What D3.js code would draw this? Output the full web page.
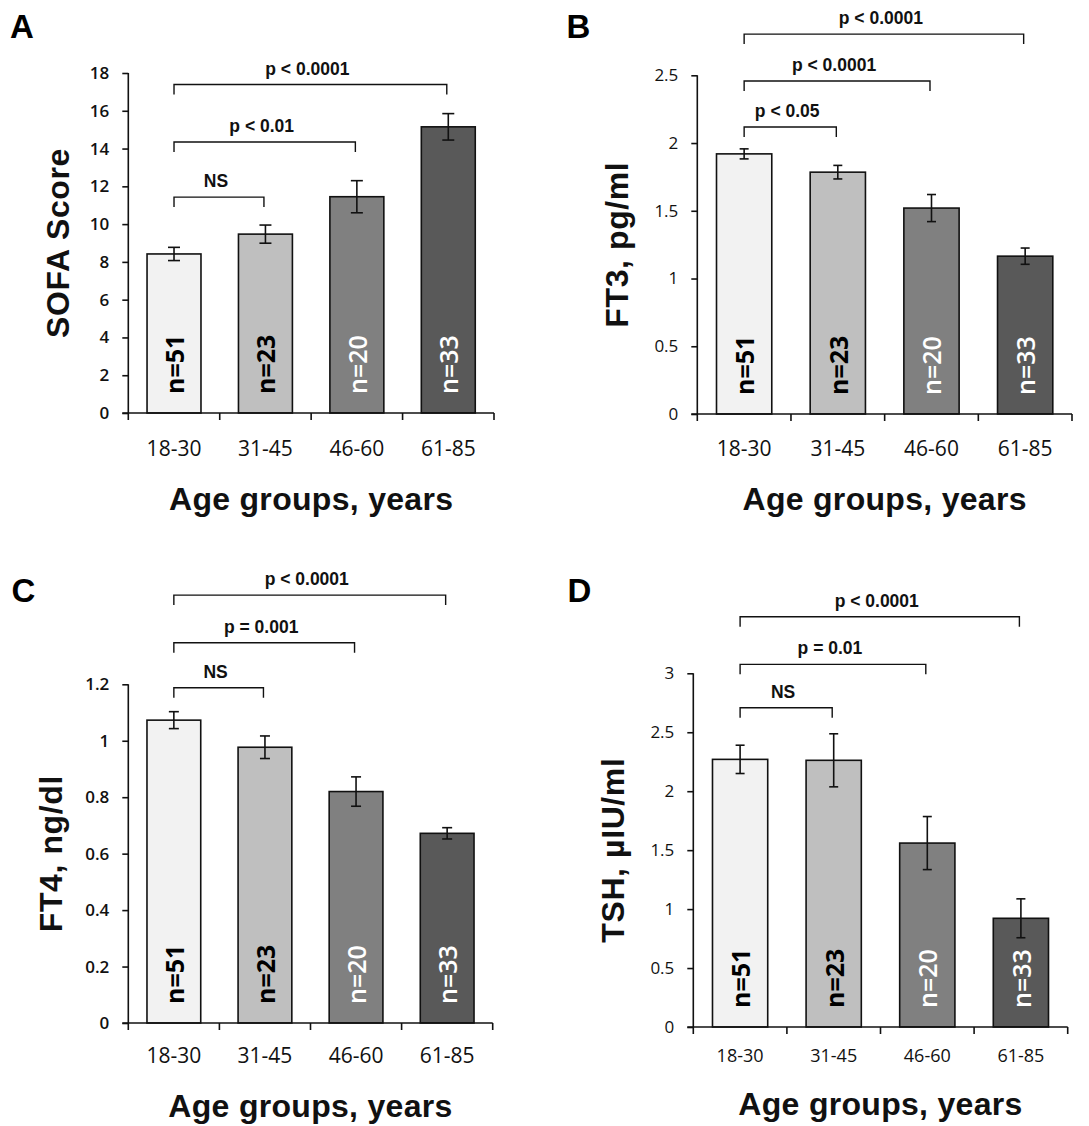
<!DOCTYPE html>
<html>
<head>
<meta charset="utf-8">
<script src="https://cdn.jsdelivr.net/npm/d3@7"></script>
<style>
  html, body { margin: 0; padding: 0; background: #fff; }
  svg { display: block; }
</style>
</head>
<body>
<svg id="chart" width="1089" height="1126"></svg>
<script>
// ---------- DATA ----------
const categories = ["18-30", "31-45", "46-60", "61-85"];
const sampleSizes = [51, 23, 20, 33];

const sofaMeans  = [8.42, 9.47, 11.45, 15.15];
const sofaErrors = [0.35, 0.48, 0.85, 0.70];
const sofaTicks  = [0, 2, 4, 6, 8, 10, 12, 14, 16, 18];
const sofaComparisons = [
  { to: 1, label: "NS", level: 11.43 },
  { to: 2, label: "p < 0.01", level: 14.35 },
  { to: 3, label: "p < 0.0001", level: 17.39 }
];

const ft3Means  = [1.92, 1.785, 1.52, 1.165];
const ft3Errors = [0.037, 0.05, 0.10, 0.06];
const ft3Ticks  = [0, 0.5, 1, 1.5, 2, 2.5];
const ft3Comparisons = [
  { to: 1, label: "p < 0.05", level: 2.118 },
  { to: 2, label: "p < 0.0001", level: 2.458 },
  { to: 3, label: "p < 0.0001", level: 2.804 }
];

const ft4Means  = [1.073, 0.977, 0.82, 0.672];
const ft4Errors = [0.03, 0.04, 0.052, 0.02];
const ft4Ticks  = [0, 0.2, 0.4, 0.6, 0.8, 1, 1.2];
const ft4Comparisons = [
  { to: 1, label: "NS", level: 1.188 },
  { to: 2, label: "p = 0.001", level: 1.347 },
  { to: 3, label: "p < 0.0001", level: 1.516 }
];

const tshMeans  = [2.27, 2.262, 1.56, 0.922];
const tshErrors = [0.12, 0.225, 0.225, 0.165];
const tshTicks  = [0, 0.5, 1, 1.5, 2, 2.5, 3];
const tshComparisons = [
  { to: 1, label: "NS", level: 2.708 },
  { to: 2, label: "p = 0.01", level: 3.076 },
  { to: 3, label: "p < 0.0001", level: 3.48 }
];

// ---------- STYLE ----------
const barFills   = ["#f2f2f2", "#bfbfbf", "#808080", "#595959"];
const nColors    = ["#000000", "#000000", "#ffffff", "#ffffff"];
const nWeights   = [700, 700, 600, 600];
const boldSans   = "'Liberation Sans', Arial, sans-serif";
const tickFont   = "'Open Sans', 'Noto Sans', sans-serif";

// ---------- LAYOUT ----------
const panels = [
  { letter: "A", means: sofaMeans, errors: sofaErrors, ticks: sofaTicks, comps: sofaComparisons,
    yTitle: "SOFA Score", x0: 128.3, x1: 494, yTop: 73, yBottom: 413,
    letterX: 10, letterY: 37.7, yTitleX: 57.5, xLabelOffset: 42.7, xLabelSize: 21,
    xTitleOffset: 97, yTickWeight: 600, capW: 12 },
  { letter: "B", means: ft3Means, errors: ft3Errors, ticks: ft3Ticks, comps: ft3Comparisons,
    yTitle: "FT3, pg/ml", x0: 697.3, x1: 1072, yTop: 75.3, yBottom: 414,
    letterX: 566.5, letterY: 37.7, yTitleX: 616.7, xLabelOffset: 41.7, xLabelSize: 21,
    xTitleOffset: 96, yTickWeight: 400, capW: 9 },
  { letter: "C", means: ft4Means, errors: ft4Errors, ticks: ft4Ticks, comps: ft4Comparisons,
    yTitle: "FT4, ng/dl", x0: 128.3, x1: 492.7, yTop: 684.3, yBottom: 1023,
    letterX: 11.5, letterY: 601.7, yTitleX: 50.5, xLabelOffset: 40.3, xLabelSize: 21,
    xTitleOffset: 94, yTickWeight: 600, capW: 10 },
  { letter: "D", means: tshMeans, errors: tshErrors, ticks: tshTicks, comps: tshComparisons,
    yTitle: "TSH, µIU/ml", x0: 693.3, x1: 1067.7, yTop: 673.3, yBottom: 1027,
    letterX: 567.5, letterY: 602.3, yTitleX: 612.5, xLabelOffset: 34.7, xLabelSize: 18,
    xTitleOffset: 88, yTickWeight: 400, capW: 9 }
];

const svg = d3.select("#chart");

panels.forEach(p => {
  const g = svg.append("g");
  const x = d3.scaleBand().domain(categories).range([p.x0, p.x1])
    .paddingInner(0.41).paddingOuter(0.205);
  const y = d3.scaleLinear().domain([0, p.ticks[p.ticks.length - 1]]).range([p.yBottom, p.yTop]);

  const data = categories.map((c, i) => ({ cat: c, mean: p.means[i], err: p.errors[i], n: sampleSizes[i], i }));

  // bars
  g.selectAll("rect.bar").data(data).join("rect")
    .attr("class", "bar")
    .attr("x", d => x(d.cat))
    .attr("width", x.bandwidth())
    .attr("y", d => y(d.mean))
    .attr("height", d => y(0) - y(d.mean))
    .attr("fill", d => barFills[d.i])
    .attr("stroke", "#111")
    .attr("stroke-width", 1.6);

  // error bars
  const eb = g.selectAll("g.err").data(data).join("g").attr("class", "err")
    .attr("stroke", "#111").attr("stroke-width", 1.6);
  eb.append("line")
    .attr("x1", d => x(d.cat) + x.bandwidth() / 2).attr("x2", d => x(d.cat) + x.bandwidth() / 2)
    .attr("y1", d => y(d.mean + d.err)).attr("y2", d => y(d.mean - d.err));
  eb.append("line")
    .attr("x1", d => x(d.cat) + x.bandwidth() / 2 - p.capW / 2).attr("x2", d => x(d.cat) + x.bandwidth() / 2 + p.capW / 2)
    .attr("y1", d => y(d.mean + d.err)).attr("y2", d => y(d.mean + d.err));
  eb.append("line")
    .attr("x1", d => x(d.cat) + x.bandwidth() / 2 - p.capW / 2).attr("x2", d => x(d.cat) + x.bandwidth() / 2 + p.capW / 2)
    .attr("y1", d => y(d.mean - d.err)).attr("y2", d => y(d.mean - d.err));

  // n labels
  g.selectAll("text.n").data(data).join("text")
    .attr("class", "n")
    .attr("transform", d => `translate(${x(d.cat) + x.bandwidth() / 2},${y(0) - 19}) rotate(-90)`)
    .attr("text-anchor", "start")
    .attr("dominant-baseline", "central")
    .attr("font-family", tickFont)
    .attr("font-weight", d => nWeights[d.i])
    .attr("font-size", 25)
    .attr("fill", d => nColors[d.i])
    .text(d => "n=" + d.n);

  // y axis
  const yAxis = g.append("g")
    .attr("transform", `translate(${p.x0},0)`)
    .call(d3.axisLeft(y).tickValues(p.ticks).tickSize(6).tickPadding(13).tickFormat(d => String(d)));
  yAxis.select(".domain").attr("stroke", "#111").attr("stroke-width", 1.6)
    .attr("d", `M0,${p.yTop}V${p.yBottom}`);
  yAxis.selectAll(".tick line").attr("stroke", "#111").attr("stroke-width", 1.6);
  yAxis.selectAll(".tick text")
    .attr("font-family", tickFont).attr("font-size", 17).attr("font-weight", p.yTickWeight)
    .attr("fill", "#111");

  // x axis line with boundary ticks
  const step = x.step();
  const xAxisG = g.append("g").attr("stroke", "#111").attr("stroke-width", 1.6);
  xAxisG.append("line").attr("x1", p.x0 - 6).attr("x2", p.x1).attr("y1", y(0)).attr("y2", y(0));
  xAxisG.selectAll("line.bt").data(d3.range(categories.length + 1)).join("line")
    .attr("class", "bt")
    .attr("x1", k => p.x0 + k * step).attr("x2", k => p.x0 + k * step)
    .attr("y1", y(0)).attr("y2", y(0) + 7);

  // x tick labels via axis
  const xAxis = g.append("g")
    .attr("transform", `translate(0,${y(0)})`)
    .call(d3.axisBottom(x).tickSize(0).tickPadding(0));
  xAxis.select(".domain").remove();
  xAxis.selectAll(".tick text")
    .attr("dy", null).attr("y", p.xLabelOffset)
    .attr("font-family", tickFont).attr("font-size", p.xLabelSize).attr("fill", "#111");

  // comparison brackets
  const cx = i => x(categories[i]) + x.bandwidth() / 2;
  p.comps.forEach(c => {
    const xa = cx(0), xb = cx(c.to) - 1.5, yy = y(c.level);
    g.append("path")
      .attr("d", `M${xa},${yy + 10}V${yy}H${xb}V${yy + 10}`)
      .attr("fill", "none").attr("stroke", "#111").attr("stroke-width", 1.4);
    g.append("text")
      .attr("x", (xa + xb) / 2 - 3).attr("y", yy - 10)
      .attr("text-anchor", "middle")
      .attr("font-family", boldSans).attr("font-weight", 700).attr("font-size", 17.5)
      .attr("fill", "#111")
      .text(c.label);
  });

  // axis titles
  g.append("text")
    .attr("transform", `translate(${p.yTitleX},${(p.yTop + p.yBottom) / 2}) rotate(-90)`)
    .attr("text-anchor", "middle").attr("dominant-baseline", "central")
    .attr("font-family", boldSans).attr("font-weight", 700).attr("font-size", 32)
    .attr("letter-spacing", 0.6)
    .attr("fill", "#111")
    .text(p.yTitle);
  g.append("text")
    .attr("x", (p.x0 + p.x1) / 2).attr("y", y(0) + p.xTitleOffset)
    .attr("text-anchor", "middle")
    .attr("font-family", boldSans).attr("font-weight", 700).attr("font-size", 32)
    .attr("letter-spacing", 0.3)
    .attr("fill", "#111")
    .text("Age groups, years");

  // panel letter
  g.append("text")
    .attr("x", p.letterX).attr("y", p.letterY)
    .attr("font-family", boldSans).attr("font-weight", 700).attr("font-size", 33)
    .attr("fill", "#000")
    .text(p.letter);
});
</script>
</body>
</html>
